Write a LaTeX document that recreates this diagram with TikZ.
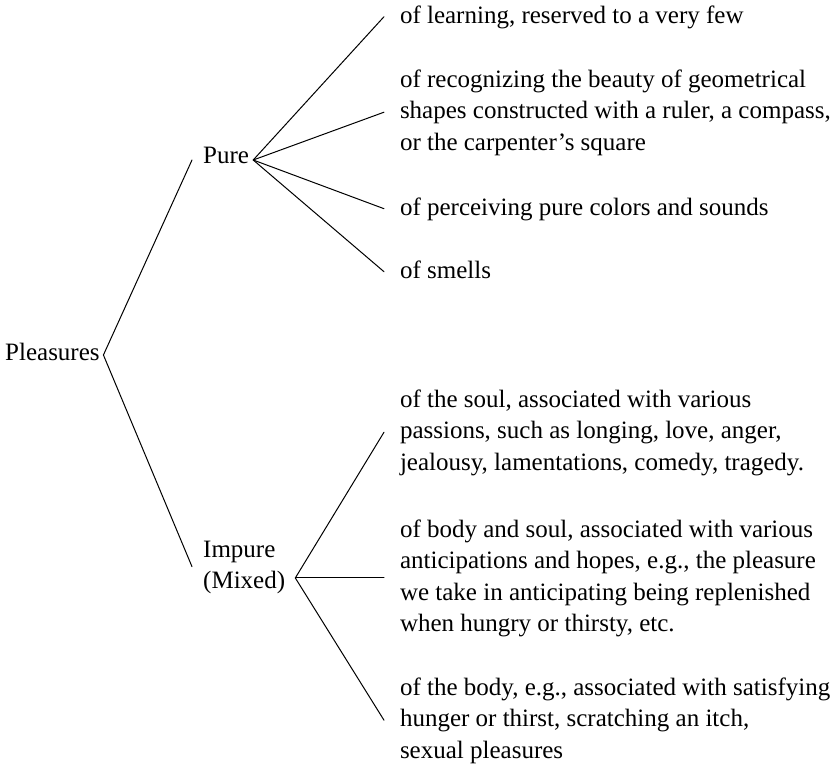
\documentclass[tikz,border=0pt]{standalone}
\usepackage{fontspec}
\setmainfont{Liberation Serif}
\begin{document}
\begin{tikzpicture}[x=1pt,y=-1pt,
  txt/.style={font=\fontsize{25}{31.5}\selectfont, inner sep=0pt},
  item/.style={txt, align=left, anchor=north west, outer xsep=16pt, outer ysep=0pt},
  link/.style={line width=1pt, line cap=round}]
\useasboundingbox (0,0) rectangle (839,766);
% root and second level
\node[txt, anchor=base west, text height=10pt, text depth=0pt] (pl) at (5,360) {Pleasures};
\node[txt, anchor=base west, text height=12pt, text depth=6pt] (pure) at (203,163) {Pure};
\node[txt, align=left, anchor=north west] (imp) at (203,534.95) {\strut Impure\\(Mixed)\strut};
% leaves of Pure
\node[item] (a1) at (384,0.95) {\strut of learning, reserved to a very few\strut};
\node[item] (a2) at (384,64.95) {\strut of recognizing the beauty of geometrical\\shapes constructed with a ruler, a compass,\\or the carpenter’s square\strut};
\node[item] (a3) at (384,192.95) {\strut of perceiving pure colors and sounds\strut};
\node[item] (a4) at (384,255.95) {\strut of smells\strut};
% leaves of Impure
\node[item] (b1) at (384,384.95) {\strut of the soul, associated with various\\passions, such as longing, love, anger,\\jealousy, lamentations, comedy, tragedy.\strut};
\node[item] (b2) at (384,514.95) {\strut of body and soul, associated with various\\anticipations and hopes, e.g., the pleasure\\we take in anticipating being replenished\\when hungry or thirsty, etc.\strut};
\node[item] (b3) at (384,672.95) {\strut of the body, e.g., associated with satisfying\\hunger or thirst, scratching an itch,\\sexual pleasures\strut};
% vertices
\coordinate (pv) at ([xshift=3.6pt]pl.east);
\coordinate (uv) at ([xshift=4pt]pure.east);
\coordinate (ie) at ([xshift=10pt]imp.east);
\coordinate (iv) at (ie |- b2.west);
% connectors
\draw[link] (pv) -- ([xshift=-11pt]pure.west);
\draw[link] (pv) -- ([xshift=-11pt]imp.west);
\draw[link] (uv) -- (a1.west);
\draw[link] (uv) -- (a2.west);
\draw[link] (uv) -- (a3.west);
\draw[link] (uv) -- (a4.west);
\draw[link] (iv) -- (b1.west);
\draw[link] (iv) -- (b2.west);
\draw[link] (iv) -- (b3.west);
\end{tikzpicture}
\end{document}
